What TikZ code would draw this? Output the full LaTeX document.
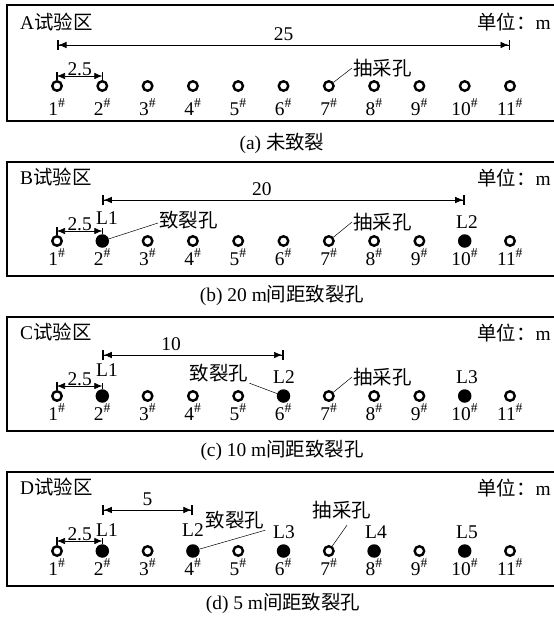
\documentclass[tikz,border=0pt]{standalone}
\usepackage{fontspec}
\setmainfont{Liberation Serif}
\newfontfamily\cjk{Noto Sans CJK SC}[Scale=1.0]
\usetikzlibrary{arrows.meta}

\begin{document}
\begin{tikzpicture}[x=1bp, y=-1bp,
    font=\fontsize{19.5}{22}\selectfont, inner sep=1bp,
    panel/.style={draw, line width=1.6bp},
    openhole/.style={circle, draw, line width=2.4bp, fill=white, minimum size=9.5bp, inner sep=0pt},
    crackhole/.style={circle, fill=black, minimum size=13.5bp, inner sep=0pt},
    dimline/.style={line width=0.6bp, {Bar[width=10bp,line width=1.5bp]Latex[length=8bp,width=6.5bp]}-{Latex[length=8bp,width=6.5bp]Bar[width=10bp,line width=1.5bp]}},
    shortdim/.style={line width=0.6bp, {Latex[length=8bp,width=6.5bp]}-{Latex[length=8bp,width=6.5bp]}},
    tick/.style={line width=1.6bp},
    leader/.style={line width=0.5bp}]
\useasboundingbox (0,0) rectangle (554,618);

% (a) test zone A
\draw[panel] (7,5) rectangle (558,121);
\node[anchor=west] (titleA) at (19,22) {A{\cjk 试验区}};
\node[anchor=east] (unitA) at (552,22) {{\cjk 单位：}m};
\foreach \i in {1,...,11} {
  \node[openhole] (a\i) at ({57+45.3*(\i-1)},86) {};
  \node (na\i) at ({57+45.3*(\i-1)},107) {\i\textsuperscript{\#}};
}
\draw[tick] (a1.north) -- ++(0,-8);
\draw[tick] (a2.north) -- ++(0,-8);
\draw[shortdim] ([yshift=10bp]a1.center) -- ([yshift=10bp]a2.center) node[midway, above=-1bp] (sa) {2.5};
\draw[dimline] (a1.center |- 0,45) -- (a11.center |- 0,45) node[midway, above=3bp] (da) {25};
\node[anchor=west] (pumpA) at (352,68) {\cjk 抽采孔};
\draw[leader] (a7) -- (pumpA.west);
\node (capA) at (282,143) {(a) {\cjk 未致裂}};

% (b) test zone B, 20 m spacing
\draw[panel] (7,162) rectangle (558,276);
\node[anchor=west] (titleB) at (19,177) {B{\cjk 试验区}};
\node[anchor=east] (unitB) at (552,178) {{\cjk 单位：}m};
\foreach \i in {1,3,4,5,6,7,8,9,11}
  \node[openhole] (b\i) at ({57+45.3*(\i-1)},241) {};
\foreach \i in {2,10}
  \node[crackhole] (b\i) at ({57+45.3*(\i-1)},241) {};
\foreach \i in {1,...,11}
  \node (nb\i) at ({57+45.3*(\i-1)},257) {\i\textsuperscript{\#}};
\draw[tick] (b1.north) -- ++(0,-8);
\draw[tick] (b2.north) -- ++(0,-6);
\draw[shortdim] ([yshift=10bp]b1.center) -- ([yshift=10bp]b2.center) node[midway, above=-1bp] (sb) {2.5};
\draw[dimline] (b2.center |- 0,200) -- (b10.center |- 0,200) node[pos=0.44, above=3bp] (db) {20};
\node (lb1) at (107,218) {L1};
\node (lb2) at (467,222) {L2};
\node[anchor=west] (crackB) at (158,220) {\cjk 致裂孔};
\draw[leader] (b2) -- ([yshift=-3bp]crackB.west);
\node[anchor=west] (pumpB) at (352,222) {\cjk 抽采孔};
\draw[leader] (b7) -- (pumpB.west);
\node (capB) at (282,295) {(b) 20 m{\cjk 间距致裂孔}};

% (c) test zone C, 10 m spacing
\draw[panel] (7,317) rectangle (558,431);
\node[anchor=west] (titleC) at (19,332) {C{\cjk 试验区}};
\node[anchor=east] (unitC) at (552,333) {{\cjk 单位：}m};
\foreach \i in {1,3,4,5,7,8,9,11}
  \node[openhole] (c\i) at ({57+45.3*(\i-1)},396) {};
\foreach \i in {2,6,10}
  \node[crackhole] (c\i) at ({57+45.3*(\i-1)},396) {};
\foreach \i in {1,...,11}
  \node (nc\i) at ({57+45.3*(\i-1)},412) {\i\textsuperscript{\#}};
\draw[tick] (c1.north) -- ++(0,-8);
\draw[tick] (c2.north) -- ++(0,-6);
\draw[shortdim] ([yshift=10bp]c1.center) -- ([yshift=10bp]c2.center) node[midway, above=-1bp] (sc) {2.5};
\draw[dimline] (c2.center |- 0,355) -- (c6.center |- 0,355) node[pos=0.38, above=3bp] (dc) {10};
\node (lc1) at (107,370) {L1};
\node (lc2) at (284,377) {L2};
\node (lc3) at (467,377) {L3};
\node (crackC) at (219,373) {\cjk 致裂孔};
\draw[leader] (c6) -- (crackC.south east);
\node[anchor=west] (pumpC) at (352,377) {\cjk 抽采孔};
\draw[leader] (c7) -- (pumpC.west);
\node (capC) at (282,450) {(c) 10 m{\cjk 间距致裂孔}};

% (d) test zone D, 5 m spacing
\draw[panel] (7,472) rectangle (558,586);
\node[anchor=west] (titleD) at (19,487) {D{\cjk 试验区}};
\node[anchor=east] (unitD) at (552,488) {{\cjk 单位：}m};
\foreach \i in {1,3,5,7,9,11}
  \node[openhole] (d\i) at ({57+45.3*(\i-1)},551) {};
\foreach \i in {2,4,6,8,10}
  \node[crackhole] (d\i) at ({57+45.3*(\i-1)},551) {};
\foreach \i in {1,...,11}
  \node (nd\i) at ({57+45.3*(\i-1)},567) {\i\textsuperscript{\#}};
\draw[tick] (d1.north) -- ++(0,-8);
\draw[tick] (d2.north) -- ++(0,-6);
\draw[shortdim] ([yshift=10bp]d1.center) -- ([yshift=10bp]d2.center) node[midway, above=-1bp] (sd) {2.5};
\draw[dimline] (d2.center |- 0,510) -- (d4.center |- 0,510) node[midway, above=3bp] (dd) {5};
\node (ld1) at (107,530) {L1};
\node (ld2) at (193,530) {L2};
\node (ld3) at (284,532) {L3};
\node (ld4) at (376,532) {L4};
\node (ld5) at (467,532) {L5};
\node (crackD) at (235,520) {\cjk 致裂孔};
\draw[leader] (d4) -- (crackD.south east);
\node (pumpD) at (342,510) {\cjk 抽采孔};
\draw[leader] (d7) -- ([xshift=5bp,yshift=-5bp]pumpD.south);
\node (capD) at (283,603) {(d) 5 m{\cjk 间距致裂孔}};
\end{tikzpicture}
\end{document}
